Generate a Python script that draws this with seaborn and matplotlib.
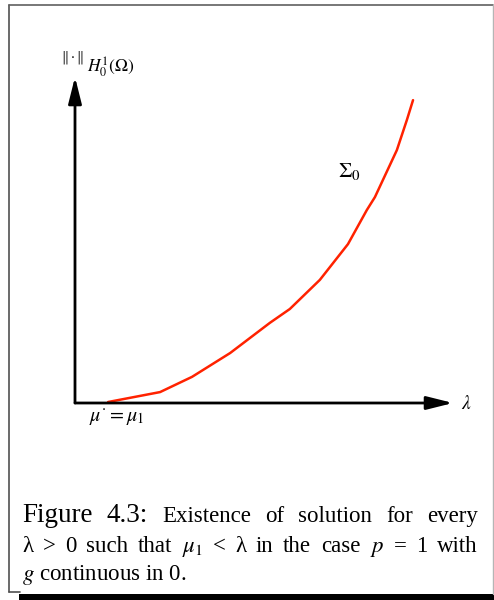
import matplotlib
matplotlib.use("Agg")
import matplotlib.pyplot as plt
from matplotlib.patches import Rectangle, ArrowStyle
from matplotlib.lines import Line2D
import seaborn as sns
import pandas as pd

# Branch Sigma_0: lambda against the H_0^1 norm of the solution
lam = [0.86, 2.21, 3.04, 4.03, 5.06, 5.58, 6.36, 7.09, 7.58, 7.79, 8.36, 8.62, 8.78]
norm = [0.03, 0.33, 0.79, 1.51, 2.42, 2.84, 3.72, 4.80, 5.83, 6.22, 7.64, 8.55, 9.15]

caption_line1_head = ["Figure", "4.3:"]
caption_line1_body = ["Existence", "of", "solution", "for", "every"]
caption_line2 = ["λ", ">", "0", "such", "that", r"$\mu_1$", "<", "λ", "in",
                 "the", "case", r"$p$", "=", "1", "with"]
caption_line3 = r"$g$ continuous in 0."

sns.set_style("white")
plt.rcParams["font.family"] = ["Liberation Serif", "DejaVu Serif"]
plt.rcParams["mathtext.fontset"] = "stix"
plt.rcParams["text.color"] = "black"

W, H = 494, 600
fig = plt.figure(figsize=(W / 100, H / 100), dpi=100)


def fx(px):
    return px / W


def fy(py):
    return 1 - py / H


# plotting area: origin at pixel (75, 403)
ax = fig.add_axes([fx(75), fy(403), (460 - 75) / W, (403 - 72) / H])
ax.set_xlim(0, 10)
ax.set_ylim(0, 10)
ax.axis("off")

df = pd.DataFrame({"lam": lam, "norm": norm})
sns.lineplot(data=df, x="lam", y="norm", sort=False, color="#ff2200",
             linewidth=1.8, ax=ax)

head = ArrowStyle("-|>", head_length=0.8, head_width=0.2)
ax.annotate("", xy=(9.82, 0), xytext=(0, 0),
            arrowprops=dict(arrowstyle=head, color="black", lw=2.0,
                            mutation_scale=20, shrinkA=0, shrinkB=0),
            annotation_clip=False)
ax.annotate("", xy=(0, 9.85), xytext=(0, 0),
            arrowprops=dict(arrowstyle=head, color="black", lw=2.0,
                            mutation_scale=20, shrinkA=0, shrinkB=0),
            annotation_clip=False)

# axis and curve labels
fig.text(fx(461), fy(404), r"$\lambda$", fontsize=14, ha="left", va="center")
fig.text(fx(89), fy(418), r"$\mu^{\cdot} = \mu_1$", fontsize=14.5,
         ha="left", va="center")
fig.text(fx(338), fy(172), r"$\Sigma_0$", fontsize=15.5, ha="left", va="center")
fig.text(fx(61), fy(57), r"$\Vert\cdot\Vert$", fontsize=10,
         ha="left", va="center")
fig.text(fx(87), fy(67), r"$H_0^1(\Omega)$", fontsize=12.5,
         ha="left", va="center")

# caption, justified between x=22 and x=478
renderer = fig.canvas.get_renderer()
LEFT, RIGHT = 22, 478


def justified(tokens, sizes, baseline):
    texts = [fig.text(0, fy(baseline), t, fontsize=s, va="baseline", ha="left")
             for t, s in zip(tokens, sizes)]
    widths = [t.get_window_extent(renderer).width for t in texts]
    gap = (RIGHT - LEFT - sum(widths)) / (len(tokens) - 1)
    x = LEFT
    for t, w in zip(texts, widths):
        t.set_x(fx(x))
        x += w + gap


justified(caption_line1_head + caption_line1_body,
          [19.5] * len(caption_line1_head) + [16.5] * len(caption_line1_body), 522)
justified(caption_line2, [16.5] * len(caption_line2), 552)
fig.text(fx(LEFT), fy(580), caption_line3, fontsize=16.5, va="baseline", ha="left")

# framed box with drop shadow
fig.add_artist(Line2D([fx(9), fx(9)], [fy(5), fy(592)], color="#505050", lw=1.2))
fig.add_artist(Line2D([fx(9), fx(493)], [fy(5), fy(5)], color="#606060", lw=1.2))
fig.add_artist(Line2D([fx(492.5), fx(492.5)], [fy(5), fy(594)], color="#b5b5b5", lw=1.0))
fig.add_artist(Line2D([fx(9), fx(20)], [fy(592), fy(592)], color="#505050", lw=1.2))
fig.add_artist(Rectangle((fx(19), 0), fx(494) - fx(19), fy(594), color="black", lw=0))

fig.savefig("out.png", dpi=100)
